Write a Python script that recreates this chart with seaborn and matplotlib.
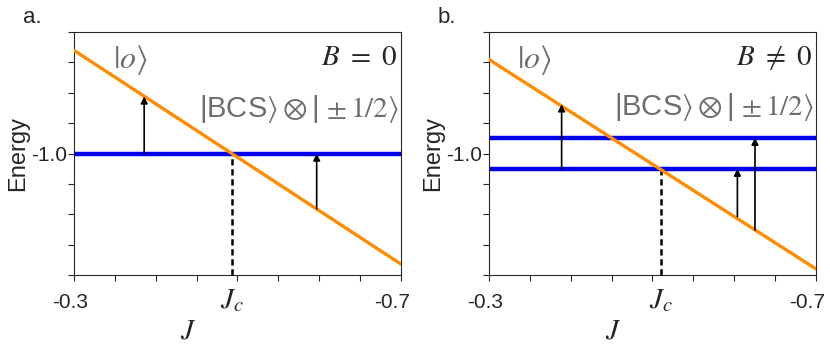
"""Level crossing sketch: |o> versus |BCS> x |+-1/2> for B = 0 and B != 0."""
import numpy as np
import pandas as pd
from matplotlib import pyplot as plt
from matplotlib import transforms
import seaborn as sns

# Data
j_range = [-0.3, -0.7]
j_ticks = [-0.3, -0.35, -0.4, -0.45, -0.5, -0.55, -0.6, -0.65, -0.7]
j_tick_labels = ['-0.3', '', '', '', '', '', '', '', '-0.7']
e_ticks = [-1.2, -1.15, -1.1, -1.05, -1.0, -0.95, -0.9, -0.85, -0.8]
e_tick_labels = ['', '', '', '', '-1.0', '', '', '', '']

# Panel a (B = 0)
orange_a = [-0.830, -1.182]
bcs_a = [-1.0]
jc_a = -0.493
arrow_j_a = [-0.386, -0.597]
arrow_from_a = [-1.0, -1.091]
arrow_to_a = [-0.906, -1.0]

# Panel b (B != 0)
orange_b = [-0.845, -1.190]
bcs_b = [-0.974, -1.025]
jc_b = -0.51
arrow_j_b = [-0.389, -0.604, -0.6255]
arrow_from_b = [-1.025, -1.104, -1.126]
arrow_to_b = [-0.919, -1.025, -0.974]

sns.set_style('ticks')
plt.rcParams['font.family'] = ['Liberation Sans', 'DejaVu Sans']
plt.rcParams['mathtext.fontset'] = 'stix'
plt.rcParams['axes.unicode_minus'] = False

fig = plt.figure(figsize=(8.3, 3.45), dpi=100)
ax_a = fig.add_axes([0.089, 0.203, 0.394, 0.704])
ax_b = fig.add_axes([0.589, 0.203, 0.394, 0.704])

ORANGE = '#ff8c00'
BLUE = '#0000ee'
GREY = '#6e6e6e'


def draw_panel(ax, orange, bcs, jc, arrow_j, arrow_from, arrow_to,
               field_label, letter, jlabel_x, o_pos, bcs_y):
    # Horizontal |BCS> levels
    for e in bcs:
        df = pd.DataFrame({'J': j_range, 'E': [e, e]})
        sns.lineplot(df, x='J', y='E', color=BLUE, linewidth=3.2, ax=ax,
                     zorder=2)
    # |o> level
    df = pd.DataFrame({'J': j_range, 'E': orange})
    sns.lineplot(df, x='J', y='E', color=ORANGE, linewidth=2.4, ax=ax,
                 zorder=3)
    # Crossing marker
    ax.vlines(jc, e_ticks[0], min(bcs), color='black',
              linestyle=(0, (2.5, 1.5)), linewidth=1.8, zorder=1)
    # Excitation arrows
    for j, e0, e1 in zip(arrow_j, arrow_from, arrow_to):
        ax.annotate('', xy=(j, e1), xytext=(j, e0),
                    arrowprops=dict(arrowstyle='-|>', color='black', lw=1.2,
                                    mutation_scale=10, shrinkA=0, shrinkB=0),
                    zorder=4)

    ax.set_xlim(j_range[0], j_range[1])
    ax.set_ylim(e_ticks[0], e_ticks[-1])
    ax.set_xticks(j_ticks)
    ax.set_xticklabels(j_tick_labels, fontsize=15)
    ax.set_yticks(e_ticks)
    ax.set_yticklabels(e_tick_labels, fontsize=15)
    ax.tick_params(length=4, width=0.8)
    ax.tick_params(axis='x', pad=9)
    ax.tick_params(axis='y', pad=1)
    # nudge the end labels left, as in the reference
    labels = ax.get_xticklabels()
    for lab, dx in [(labels[0], -4), (labels[-1], -9)]:
        shift = transforms.ScaledTranslation(dx / 100, 0, fig.dpi_scale_trans)
        lab.set_transform(lab.get_transform() + shift)
    for s in ax.spines.values():
        s.set_linewidth(0.8)
        s.set_visible(True)

    ax.set_ylabel('Energy', fontsize=17, labelpad=1)
    ax.set_xlabel(r'$J$', fontsize=21, labelpad=0)
    ax.xaxis.set_label_coords(jlabel_x, -0.17)
    ax.text(jc, -0.045, r'$J_c$', transform=ax.get_xaxis_transform(),
            ha='center', va='top', fontsize=21)

    ax.text(0.99, 0.955, field_label, transform=ax.transAxes, ha='right',
            va='top', fontsize=21)
    ax.text(o_pos[0], o_pos[1], r'$|o\rangle$', transform=ax.transAxes,
            ha='left', va='center', fontsize=23, color=GREY)
    ax.text(0.995, bcs_y, r'|BCS$\rangle \otimes $| $\pm\,1/2\rangle$',
            transform=ax.transAxes, ha='right', va='center', fontsize=21,
            color=GREY)
    ax.text(-0.156, 1.058, letter, transform=ax.transAxes, ha='left',
            va='center', fontsize=16)
    if ax.get_legend():
        ax.get_legend().remove()


draw_panel(ax_a, orange_a, bcs_a, jc_a, arrow_j_a, arrow_from_a, arrow_to_a,
           r'$B\ =\ 0$', 'a.', 0.35, (0.12, 0.885), 0.685)
draw_panel(ax_b, orange_b, bcs_b, jc_b, arrow_j_b, arrow_from_b, arrow_to_b,
           r'$B\ \neq\ 0$', 'b.', 0.38, (0.085, 0.885), 0.69)

fig.savefig('out.png', dpi=100)
